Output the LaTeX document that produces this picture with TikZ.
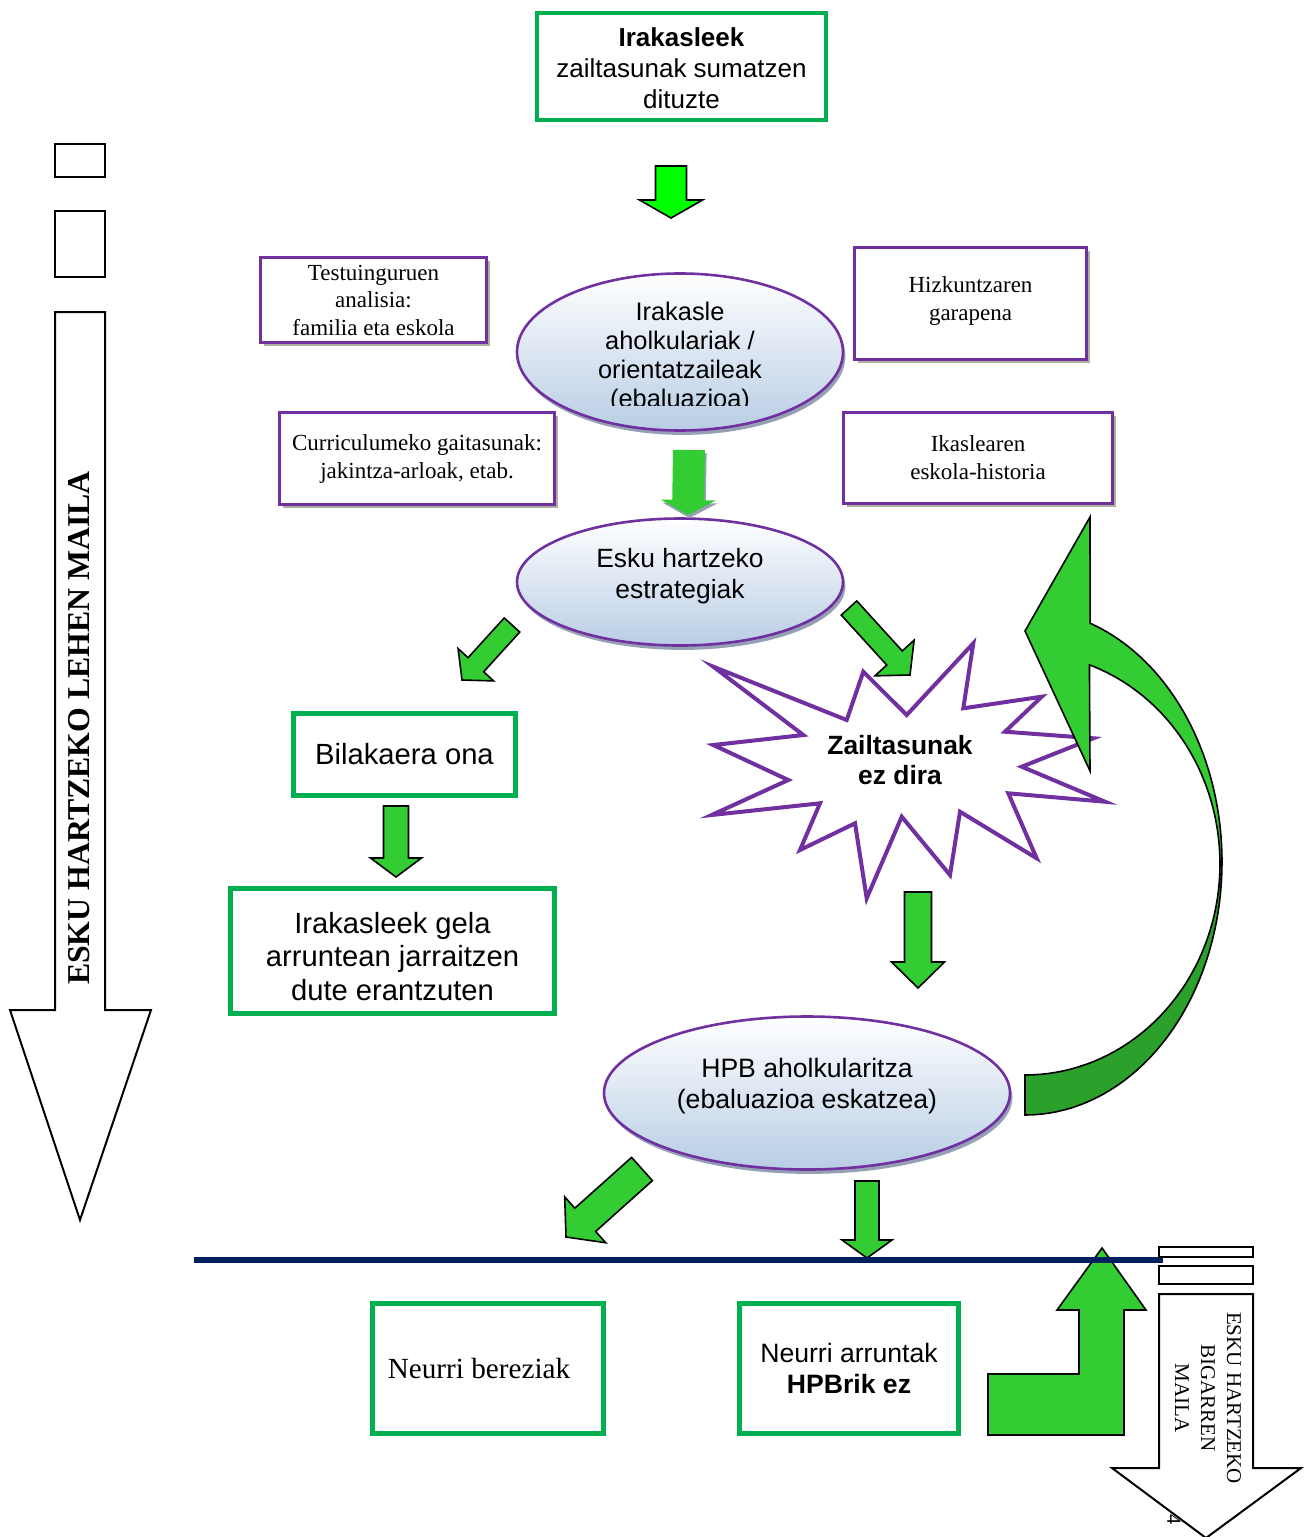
\documentclass[tikz,border=0pt]{standalone}
\usepackage{fontspec}
\setmainfont{Liberation Serif}
\setsansfont{Liberation Sans}
\usetikzlibrary{shapes.geometric,calc,shadows}
\definecolor{boxgreen}{RGB}{0,176,80}
\definecolor{purp}{RGB}{112,48,160}
\definecolor{agreen}{RGB}{51,204,51}
\definecolor{dgreen}{RGB}{43,160,43}
\definecolor{limeg}{RGB}{0,255,0}
\definecolor{navyl}{RGB}{0,32,96}
\definecolor{ellblue}{RGB}{185,205,229}
\definecolor{shol}{RGB}{170,176,155}
\definecolor{shbl}{RGB}{150,160,180}
\newcommand\fs[2]{\fontsize{#1}{#2}\selectfont}
% #1 style, #2 start coord name, #3 tip coord name, #4 half shaft, #5 half head, #6 head length
\newcommand\blockarrow[6]{%
  \coordinate (ba-b) at ($(#3)!#6!(#2)$);
  \path[#1] ($(#2)!#4!90:(#3)$) -- ($(ba-b)!#4!90:(#3)$) -- ($(ba-b)!#5!90:(#3)$) -- (#3)
    -- ($(ba-b)!#5!-90:(#3)$) -- ($(ba-b)!#4!-90:(#3)$) -- ($(#2)!#4!-90:(#3)$) -- cycle;}
\begin{document}
\begin{tikzpicture}[x=0.5pt,y=-0.5pt,
  gbox/.style={draw=boxgreen, line width=2.3pt, fill=white, inner sep=0pt, align=center},
  pbox/.style={draw=purp, line width=1.4pt, fill=white, inner sep=0pt, align=center,
    drop shadow={shadow xshift=1.6pt, shadow yshift=-1.6pt, fill=shol, opacity=1}},
  ell/.style={ellipse, draw=purp, line width=1.3pt, top color=white, bottom color=ellblue, inner sep=0pt,
    drop shadow={shadow xshift=1.2pt, shadow yshift=-2.2pt, fill=shbl, opacity=1}},
  etxt/.style={align=center, inner sep=0pt},
  garrow/.style={fill=agreen, draw=black, line width=0.8pt},
  wshape/.style={fill=white, draw=black, line width=1pt},
]
\useasboundingbox (0,0) rectangle (1305,1537);

% ---------- top box ----------
\node[gbox, minimum width=144.5pt, minimum height=53.5pt, font=\sffamily\fs{13}{15.5}] (top) at (681.5,66.5)
  {\rule{0pt}{11.5pt}\textbf{Irakasleek}\\zailtasunak sumatzen\\dituzte};

% ---------- left column ----------
\node[wshape, line width=1.2pt, minimum width=25pt, minimum height=16.5pt, inner sep=0pt] (r1) at (80,160.5) {};
\node[wshape, line width=1.2pt, minimum width=25pt, minimum height=33pt, inner sep=0pt] (r2) at (80,244) {};
\path[wshape] (55,312) -- (105,312) -- (105,1010) -- (151,1010) -- (80,1220) -- (10,1010) -- (55,1010) -- cycle;
\node[font=\bfseries\fs{15.9}{18}, rotate=90, inner sep=0pt] (lehen) at (79,728) {ESKU HARTZEKO LEHEN MAILA};

% ---------- purple boxes ----------
\node[pbox, minimum width=113pt, minimum height=42.5pt, font=\fs{11.5}{13.75}] (ctx) at (373.5,300)
  {Testuinguruen\\analisia:\\familia eta eskola};
\node[pbox, minimum width=137.5pt, minimum height=46pt, font=\fs{11.5}{14}] (cur) at (417,458.5)
  {Curriculumeko gaitasunak:\\jakintza-arloak, etab.};
\node[pbox, minimum width=116pt, minimum height=56pt, font=\fs{11.5}{14}] (hiz) at (970.5,303.5)
  {Hizkuntzaren\\garapena\rule[-5pt]{0pt}{5pt}};
\node[pbox, minimum width=134.5pt, minimum height=45.5pt, font=\fs{11.5}{14}] (ika) at (978,458)
  {Ikaslearen\\eskola-historia};

% ---------- ellipses ----------
\node[ell, minimum width=163pt, minimum height=78.5pt] (e1) at (680,352) {};
\begin{scope}
  \clip (500,280) rectangle (860,405);
  \node[etxt, font=\sffamily\fs{12.7}{14.5}] (e1t) at (680,357) {Irakasle\\aholkulariak /\\orientatzaileak\\(ebaluazioa)};
\end{scope}
\node[ell, minimum width=163pt, minimum height=63.5pt] (e2) at (680,582) {};
\node[etxt, font=\sffamily\fs{13.2}{15.5}] (e2t) at (680,576) {Esku hartzeko\\estrategiak};
\node[ell, minimum width=203pt, minimum height=76.5pt] (e3) at (807,1093) {};
\node[etxt, font=\sffamily\fs{13.3}{15.5}] (e3t) at (807,1086) {HPB aholkularitza\\(ebaluazioa eskatzea)};

% ---------- star ----------
\path[draw=purp, line width=2pt, fill=white]
  (713.3,666.7) -- (846.7,720) -- (863.3,671.7) -- (906.7,715) -- (973.3,643.3) -- (963.3,708.3)
  -- (1041.7,696.7) -- (1005,731.7) -- (1093.3,738.3) -- (1021.7,766.7) -- (1105,801.7) -- (1008.3,793.3)
  -- (1036.7,858.3) -- (960,811.7) -- (950,875) -- (901.7,816.7) -- (866.7,898.3) -- (855,823.3)
  -- (800,850) -- (820,803.3) -- (711.7,815) -- (788.3,780) -- (713.3,745) -- (803.3,735) -- cycle;
\node[etxt, font=\sffamily\bfseries\fs{13.2}{15}] (zail) at (900,760) {Zailtasunak\\ez dira};

% ---------- green boxes ----------
\node[gbox, minimum width=111pt, minimum height=41pt, font=\sffamily\fs{14.6}{17}] (bil) at (404.5,754.5) {Bilakaera ona};
\node[gbox, minimum width=162pt, minimum height=62.5pt, font=\sffamily\fs{14.6}{16.8}] (gela) at (392.5,951)
  {\rule{0pt}{16pt}Irakasleek gela\\arruntean jarraitzen\\dute erantzuten};
\node[gbox, minimum width=115.5pt, minimum height=65pt, font=\rmfamily\fs{14.6}{17}] (ber) at (488,1368.5) {Neurri bereziak\hspace*{9pt}};
\node[gbox, minimum width=109.5pt, minimum height=65pt, font=\sffamily\fs{13.3}{15.5}] (arr) at (849,1368.5)
  {Neurri arruntak\\\textbf{HPBrik ez}};

% ---------- block arrows ----------
\coordinate (a1s) at (671,166); \coordinate (a1t) at (671,218);
\blockarrow{fill=limeg, draw=black, line width=0.8pt}{a1s}{a1t}{7.75pt}{15.75pt}{9pt}
\coordinate (a2s) at (689,450); \coordinate (a2t) at (688,515);
\blockarrow{fill=agreen, drop shadow={shadow xshift=0.8pt, shadow yshift=-1.5pt, fill=shbl, opacity=1}}{a2s}{a2t}{8pt}{13.75pt}{7.5pt}
\coordinate (a3s) at (512,625); \coordinate (a3t) at (462,680);
\blockarrow{garrow}{a3s}{a3t}{5.25pt}{12pt}{10.3pt}
\coordinate (a4s) at (849,608); \coordinate (a4t) at (910,675);
\blockarrow{garrow}{a4s}{a4t}{5.25pt}{13.25pt}{11.5pt}
\coordinate (a5s) at (396,806); \coordinate (a5t) at (396,877);
\blockarrow{garrow}{a5s}{a5t}{6.25pt}{12.75pt}{9.5pt}
\coordinate (a6s) at (918,892); \coordinate (a6t) at (918,988);
\blockarrow{garrow}{a6s}{a6t}{6.75pt}{13.25pt}{13pt}
\coordinate (a7s) at (642,1169); \coordinate (a7t) at (566,1237);
\blockarrow{garrow}{a7s}{a7t}{7.8pt}{15.4pt}{12.9pt}
\coordinate (a8s) at (867,1181); \coordinate (a8t) at (867,1258);
\blockarrow{garrow}{a8s}{a8t}{6pt}{12.5pt}{9pt}

% ---------- curved arrow ----------
\path[fill=dgreen, draw=black, line width=0.8pt]
  plot[domain=0:90, samples=40, variable=\t] ({1025+197*cos(\t)},{862+253*sin(\t)})
  -- plot[domain=90:0, samples=40, variable=\t] ({1025+195*cos(\t)},{864+211*sin(\t)}) -- cycle;
\path[fill=agreen, draw=black, line width=0.8pt]
  (1090,517) -- (1025,631) -- (1090,771)
  -- plot[domain=-70.7:0, samples=40, variable=\t] ({1025+195*cos(\t)},{864+211*sin(\t)})
  -- plot[domain=0:-70.7, samples=40, variable=\t] ({1025+197*cos(\t)},{862+253*sin(\t)}) -- cycle;

% ---------- L arrow bottom right ----------
\path[garrow] (1102,1248) -- (1146,1310) -- (1124,1310) -- (1124,1435) -- (988,1435) -- (988,1374)
  -- (1079,1374) -- (1079,1310) -- (1057,1310) -- cycle;

% ---------- horizontal line ----------
\coordinate (hl1) at (194,1260); \coordinate (hl2) at (1163,1260);
\draw[navyl, line width=2.6pt] (hl1) -- (hl2);

% ---------- right column ----------
\node[wshape, minimum width=47pt, minimum height=5pt, inner sep=0pt] (rr1) at (1206,1252) {};
\node[wshape, minimum width=47pt, minimum height=9pt, inner sep=0pt] (rr2) at (1206,1275) {};
\path[wshape] (1159,1294) -- (1253,1294) -- (1253,1468) -- (1301,1468) -- (1206,1538) -- (1112,1468) -- (1159,1468) -- cycle;
\node[rotate=-90, align=center, inner sep=0pt, font=\fs{10.5}{13}] (big2) at (1208,1398) {ESKU HARTZEKO\\BIGARREN\\MAILA};
\node[rotate=-90, inner sep=0pt, font=\fs{10}{12}] (pg) at (1174,1519) {4};
\end{tikzpicture}
\end{document}
